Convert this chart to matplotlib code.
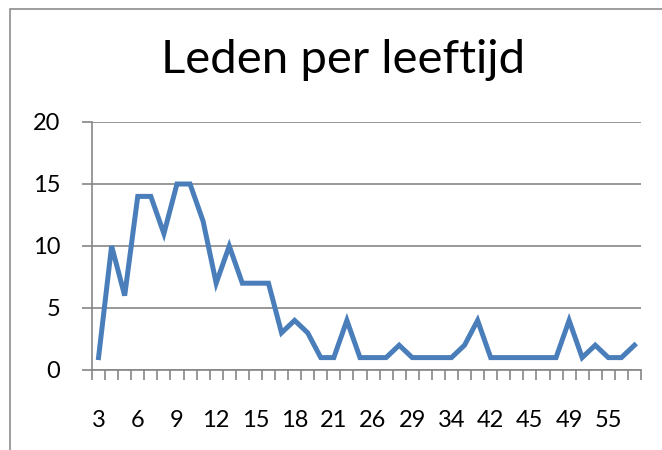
import numpy as np
import matplotlib
matplotlib.use("Agg")
import matplotlib.pyplot as plt
from matplotlib.patches import Rectangle

# ages (only every third one is labelled on the axis)
ages = [3, 4, 5, 6, 7, 8, 9, 10, 11, 12, 13, 14, 15, 16, 17, 18, 19, 20, 21,
        22, 24, 26, 27, 28, 29, 30, 32, 34, 36, 39, 42, 43, 44, 45, 46, 47,
        49, 50, 52, 55, 56, 58]
members = [1, 10, 6, 14, 14, 11, 15, 15, 12, 7, 10, 7, 7, 7, 3, 4, 3, 1, 1,
           4, 1, 1, 1, 2, 1, 1, 1, 1, 2, 4, 1, 1, 1, 1, 1, 1, 4, 1, 2, 1, 1, 2]

title = "Leden per leeftijd"
line_color = "#4A7EBB"
grid_color = "#868686"

plt.rcParams["font.family"] = ["Lato", "DejaVu Sans"]

fig = plt.figure(figsize=(6.62, 4.5), dpi=100)
fig.patches.append(Rectangle((10 / 662, -0.1), 1.5, 1 - 9 / 450 + 0.1,
                             transform=fig.transFigure, fill=False,
                             edgecolor="#8c8c8c", linewidth=1.2))

ax = fig.add_axes([92 / 662, 1 - 370 / 450, (641 - 92) / 662, (370 - 122) / 450])
x = np.arange(len(ages))
ax.plot(x, members, color=line_color, linewidth=3.6, solid_joinstyle="miter")

ax.set_xlim(-0.5, len(ages) - 0.5)
ax.set_ylim(0, 20)
ax.set_yticks([0, 5, 10, 15, 20])
ax.yaxis.grid(True, color=grid_color, linewidth=1.2)
ax.set_axisbelow(True)

ax.set_xticks(x[::3])
ax.set_xticklabels([str(a) for a in ages[::3]])
ax.set_xticks(np.arange(-0.5, len(ages), 1), minor=True)
ax.tick_params(axis="x", which="major", length=0, pad=29, labelsize=17)
ax.tick_params(axis="x", which="minor", length=7, color=grid_color, width=1.2)
ax.tick_params(axis="y", length=7, color=grid_color, width=1.2, pad=16, labelsize=17)

for s in ["top", "right"]:
    ax.spines[s].set_visible(False)
for s in ["left", "bottom"]:
    ax.spines[s].set_color(grid_color)
    ax.spines[s].set_linewidth(1.2)

fig.text(343 / 662, 1 - 60 / 450, title, ha="center", va="center",
         fontsize=34, color="black")

fig.savefig("out.png", dpi=100)
